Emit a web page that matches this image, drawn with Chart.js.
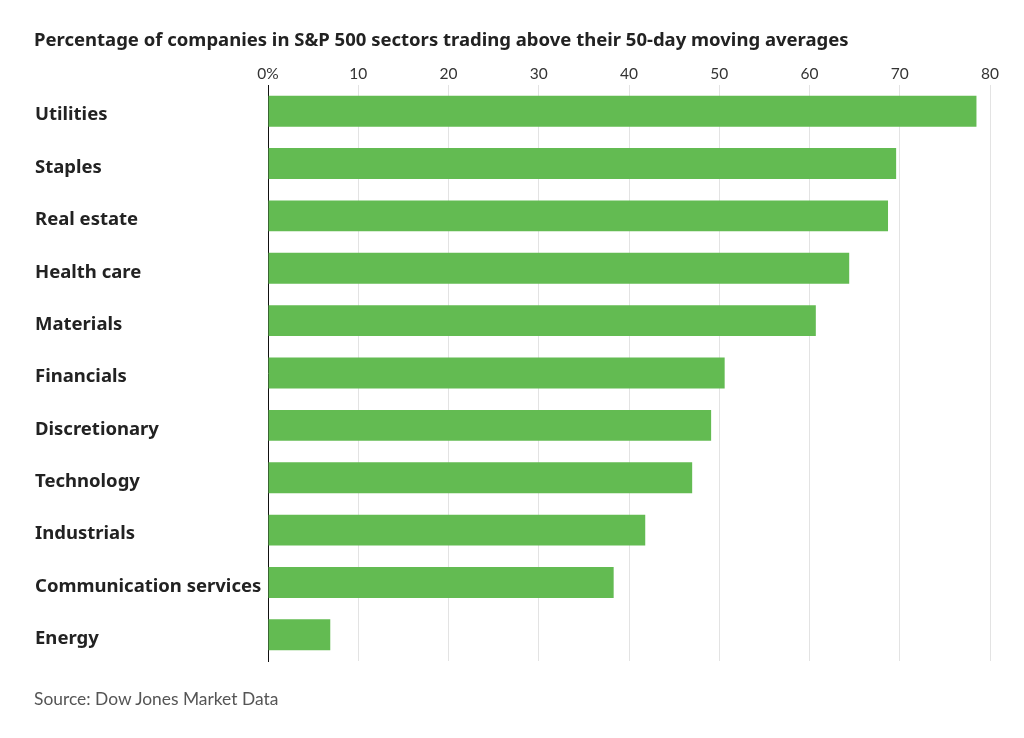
<!DOCTYPE html>
<html>
<head>
<meta charset="utf-8">
<script src="https://cdn.jsdelivr.net/npm/chart.js@4.4.1/dist/chart.umd.min.js"></script>
<style>
  html, body { margin: 0; padding: 0; background: #fff; }
  #wrap { position: relative; width: 1024px; height: 738px; overflow: hidden; }
  #title { position: absolute; left: 34px; top: 26px; font-family: "Noto Sans", sans-serif; font-weight: 700; font-size: 18.5px; color: #222; white-space: nowrap; }
  #source { position: absolute; left: 34px; top: 688px; font-family: Lato, sans-serif; font-size: 17.4px; color: #555; white-space: nowrap; }
  canvas { position: absolute; left: 0; top: 0; }
</style>
</head>
<body>
<div id="wrap">
  <canvas id="c" width="1024" height="738"></canvas>
  <div id="title">Percentage of companies in S&amp;P 500 sectors trading above their 50-day moving averages</div>
  <div id="source">Source: Dow Jones Market Data</div>
</div>
<script>
const categories = ["Utilities", "Staples", "Real estate", "Health care", "Materials", "Financials", "Discretionary", "Technology", "Industrials", "Communication services", "Energy"];
const values = [78.5, 69.6, 68.7, 64.4, 60.7, 50.6, 49.1, 47.0, 41.8, 38.3, 6.9];
const tickValues = [0, 10, 20, 30, 40, 50, 60, 70, 80];
const tickLabels = ["0%", "10", "20", "30", "40", "50", "60", "70", "80"];

new Chart(document.getElementById('c'), {
  type: 'bar',
  data: {
    labels: categories,
    datasets: [{
      data: values,
      backgroundColor: '#63bb52',
      borderWidth: 0,
      categoryPercentage: 1.0,
      barPercentage: 0.59
    }]
  },
  options: {
    indexAxis: 'y',
    responsive: false,
    animation: false,
    layout: { padding: { left: 35, right: 34, top: 64, bottom: 77 } },
    plugins: { legend: { display: false }, tooltip: { enabled: false } },
    scales: {
      x: {
        position: 'top',
        min: 0,
        max: 80,
        afterBuildTicks: (scale) => { scale.ticks = tickValues.map(v => ({ value: v })); },
        afterFit: (scale) => { scale.height = 21; },
        ticks: {
          padding: 2,
          maxRotation: 0,
          autoSkip: false,
          color: '#333',
          font: { family: 'Lato, sans-serif', size: 15.5 },
          callback: (v) => tickLabels[tickValues.indexOf(v)]
        },
        grid: { color: '#e3e3e3', lineWidth: 1, drawTicks: false },
        border: { display: false }
      },
      y: {
        afterFit: (scale) => { scale.width = 233; },
        ticks: {
          crossAlign: 'far',
          padding: 0,
          labelOffset: 4,
          color: '#222',
          font: { family: '"Noto Sans", sans-serif', size: 18.5, weight: 'bold' }
        },
        grid: { display: false, drawTicks: false },
        border: { display: true, color: '#111', width: 1 }
      }
    }
  }
});
</script>
</body>
</html>
